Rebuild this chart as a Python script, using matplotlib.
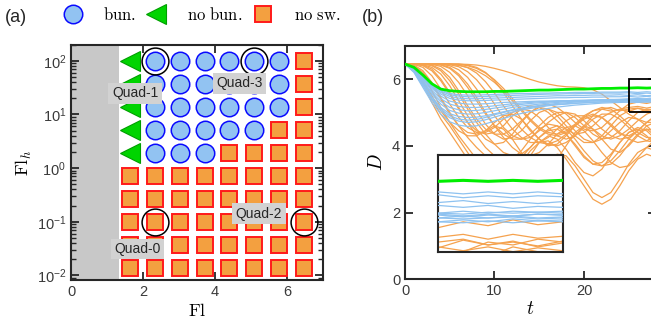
import numpy as np
import matplotlib.pyplot as plt
from matplotlib.lines import Line2D
from matplotlib.patches import Rectangle

plt.rcParams['font.family'] = ['Liberation Sans', 'DejaVu Sans']
plt.rcParams['mathtext.fontset'] = 'custom'
plt.rcParams['mathtext.rm'] = 'Liberation Sans'
plt.rcParams['mathtext.it'] = 'Liberation Sans:italic'
plt.rcParams['mathtext.bf'] = 'Liberation Sans:bold'

## Daten (a): Regime-Karte
fl = [1.63, 2.33, 3.02, 3.71, 4.40, 5.09, 5.78, 6.47]
flh = [100, 37.3, 13.9, 5.18, 1.93, 0.72, 0.268, 0.1, 0.0373, 0.0139]
# T = no bun., C = bun., S = no sw.  (Zeilen von oben nach unten)
regime = ["TCCCCCCS",
          "TCCCCCCS",
          "TCCCCCCS",
          "TCCCCCSS",
          "TCCCSSSS",
          "SSSSSSSS",
          "SSSSSSSS",
          "SSSSSSSS",
          "SSSSSSSS",
          "SSSSSSSS"]
quad_pts = [(1, 7), (1, 0), (7, 7), (5, 0)]   # (Spalte, Zeile) fuer Quad-0..3
fl_gray = 1.33

## Daten (b): D(t)
t = np.arange(0, 31)
green = [6.45, 6.35, 6.12, 5.86, 5.70, 5.65, 5.63, 5.62, 5.62, 5.62, 5.63, 5.63, 5.64, 5.65, 5.66, 5.67,
         5.67, 5.68, 5.69, 5.70, 5.70, 5.71, 5.72, 5.72, 5.73, 5.73, 5.74, 5.73, 5.74, 5.73, 5.74]
blue = [
    [6.45, 6.2, 5.75, 5.3, 4.95, 4.72, 4.62, 4.58, 4.6, 4.66, 4.74, 4.82, 4.9, 4.97, 5.03, 5.08, 5.12, 5.16, 5.19, 5.22, 5.24, 5.26, 5.28, 5.29, 5.3, 5.31, 5.3, 5.32, 5.3, 5.32, 5.31],
    [6.45, 6.22, 5.8, 5.38, 5.05, 4.84, 4.74, 4.7, 4.72, 4.78, 4.86, 4.94, 5.01, 5.07, 5.12, 5.16, 5.2, 5.23, 5.25, 5.27, 5.29, 5.31, 5.32, 5.33, 5.34, 5.35, 5.34, 5.35, 5.36, 5.34, 5.35],
    [6.45, 6.25, 5.86, 5.47, 5.15, 4.96, 4.88, 4.85, 4.86, 4.9, 4.96, 5.02, 5.08, 5.13, 5.17, 5.21, 5.24, 5.27, 5.29, 5.31, 5.33, 5.34, 5.35, 5.36, 5.37, 5.38, 5.36, 5.38, 5.37, 5.39, 5.38],
    [6.45, 6.27, 5.9, 5.55, 5.25, 5.06, 4.98, 4.95, 4.96, 5.0, 5.05, 5.1, 5.15, 5.19, 5.22, 5.25, 5.28, 5.3, 5.32, 5.33, 5.35, 5.36, 5.37, 5.38, 5.39, 5.4, 5.39, 5.41, 5.4, 5.41, 5.4],
    [6.45, 6.28, 5.94, 5.6, 5.33, 5.15, 5.08, 5.05, 5.06, 5.09, 5.13, 5.17, 5.21, 5.24, 5.27, 5.29, 5.31, 5.33, 5.34, 5.35, 5.36, 5.37, 5.38, 5.39, 5.39, 5.4, 5.42, 5.4, 5.42, 5.41, 5.42],
    [6.45, 6.3, 5.98, 5.66, 5.41, 5.25, 5.18, 5.15, 5.15, 5.17, 5.2, 5.23, 5.26, 5.28, 5.3, 5.32, 5.33, 5.34, 5.35, 5.36, 5.36, 5.37, 5.37, 5.38, 5.38, 5.39, 5.37, 5.39, 5.37, 5.39, 5.38],
    [6.45, 6.31, 6.01, 5.72, 5.49, 5.34, 5.28, 5.25, 5.25, 5.26, 5.28, 5.3, 5.31, 5.32, 5.33, 5.34, 5.34, 5.35, 5.35, 5.36, 5.36, 5.36, 5.37, 5.37, 5.37, 5.35, 5.37, 5.35, 5.37, 5.35, 5.36],
    [6.45, 6.32, 6.03, 5.76, 5.55, 5.42, 5.37, 5.35, 5.35, 5.36, 5.37, 5.38, 5.39, 5.4, 5.41, 5.42, 5.43, 5.44, 5.44, 5.45, 5.45, 5.46, 5.46, 5.47, 5.47, 5.48, 5.46, 5.48, 5.45, 5.47, 5.46],
    [6.45, 6.33, 6.05, 5.79, 5.6, 5.48, 5.43, 5.41, 5.41, 5.42, 5.43, 5.44, 5.45, 5.46, 5.47, 5.48, 5.49, 5.5, 5.5, 5.51, 5.51, 5.52, 5.52, 5.52, 5.53, 5.51, 5.53, 5.5, 5.52, 5.5, 5.52],
    [6.45, 6.34, 6.07, 5.82, 5.64, 5.53, 5.49, 5.47, 5.47, 5.48, 5.49, 5.5, 5.51, 5.52, 5.53, 5.54, 5.55, 5.55, 5.56, 5.56, 5.57, 5.57, 5.58, 5.58, 5.58, 5.59, 5.56, 5.58, 5.56, 5.58, 5.57],
    [6.45, 6.34, 6.08, 5.84, 5.67, 5.57, 5.53, 5.52, 5.52, 5.53, 5.54, 5.55, 5.56, 5.57, 5.57, 5.58, 5.58, 5.59, 5.59, 5.6, 5.6, 5.6, 5.61, 5.61, 5.61, 5.62, 5.6, 5.62, 5.6, 5.62, 5.6],
    [6.45, 6.24, 5.83, 5.42, 5.1, 4.9, 4.8, 4.77, 4.79, 4.85, 4.93, 5.0, 5.06, 5.11, 5.15, 5.19, 5.22, 5.24, 5.26, 5.28, 5.29, 5.3, 5.31, 5.32, 5.33, 5.31, 5.33, 5.31, 5.34, 5.32, 5.33],
]
orange = [
    [6.45, 6.3, 5.9, 5.4, 4.95, 4.6, 4.2, 3.8, 3.4, 3.0, 2.7, 2.6, 2.8, 3.2, 3.7, 4.1, 4.3, 4.2, 3.9, 3.5, 3.2, 3.1, 3.3, 3.7, 4.1, 4.4, 4.5, 4.3, 4.0, 3.7, 3.5],
    [6.45, 6.32, 5.95, 5.5, 5.05, 4.7, 4.45, 4.3, 4.3, 4.45, 4.6, 4.5, 4.2, 3.8, 3.4, 3.2, 3.3, 3.6, 4.0, 4.4, 4.6, 4.5, 4.2, 3.9, 3.8, 4.0, 4.3, 4.6, 4.7, 4.6, 4.4],
    [6.45, 6.4, 6.2, 5.85, 5.4, 4.95, 4.6, 4.4, 4.35, 4.45, 4.7, 4.9, 4.95, 4.8, 4.5, 4.2, 4.0, 4.05, 4.3, 4.6, 4.85, 4.95, 4.85, 4.6, 4.35, 4.3, 4.45, 4.7, 4.9, 5.0, 4.95],
    [6.45, 6.44, 6.35, 6.1, 5.7, 5.25, 4.85, 4.55, 4.4, 4.4, 4.55, 4.8, 5.0, 5.1, 5.05, 4.85, 4.55, 4.3, 4.2, 4.3, 4.6, 4.9, 5.1, 5.15, 5.05, 5.1, 5.13, 5.07, 5.11, 5.05, 5.09],
    [6.45, 6.45, 6.4, 6.25, 5.95, 5.55, 5.1, 4.7, 4.45, 4.35, 4.4, 4.6, 4.9, 5.1, 5.2, 5.15, 5.0, 4.75, 4.5, 4.35, 4.4, 4.6, 4.85, 5.0, 5.1, 5.15, 5.18, 5.13, 5.18, 5.14, 5.16],
    [6.45, 6.45, 6.43, 6.35, 6.15, 5.8, 5.35, 4.9, 4.5, 4.2, 4.05, 4.1, 4.35, 4.7, 5.0, 5.15, 5.1, 4.9, 4.6, 4.3, 4.1, 4.1, 4.3, 4.6, 4.9, 5.05, 5.01, 5.05, 5.0, 5.04, 5.01],
    [6.45, 6.45, 6.45, 6.42, 6.3, 6.05, 5.65, 5.2, 4.8, 4.5, 4.35, 4.35, 4.5, 4.75, 5.0, 5.2, 5.25, 5.15, 4.95, 4.7, 4.5, 4.45, 4.55, 4.8, 5.05, 5.25, 5.31, 5.27, 5.33, 5.28, 5.31],
    [6.45, 6.45, 6.45, 6.44, 6.38, 6.2, 5.9, 5.5, 5.05, 4.65, 4.35, 4.2, 4.25, 4.45, 4.75, 5.0, 5.1, 5.0, 4.75, 4.45, 4.2, 4.1, 4.2, 4.45, 4.7, 4.85, 4.8, 4.6, 4.35, 4.15, 4.1],
    [6.45, 6.45, 6.45, 6.45, 6.42, 6.32, 6.1, 5.75, 5.35, 4.95, 4.6, 4.35, 4.2, 4.2, 4.35, 4.6, 4.85, 5.0, 5.0, 4.85, 4.6, 4.35, 4.2, 4.25, 4.45, 4.75, 5.0, 5.1, 5.07, 5.13, 5.1],
    [6.45, 6.45, 6.45, 6.45, 6.44, 6.4, 6.28, 6.05, 5.7, 5.3, 4.9, 4.55, 4.3, 4.2, 4.25, 4.45, 4.7, 4.9, 5.0, 4.95, 4.75, 4.5, 4.3, 4.2, 4.3, 4.5, 4.75, 4.95, 5.05, 5.0, 4.85],
    [6.45, 6.45, 6.45, 6.45, 6.45, 6.43, 6.37, 6.22, 5.98, 5.65, 5.25, 4.85, 4.5, 4.25, 4.1, 4.1, 4.25, 4.5, 4.75, 4.9, 4.9, 4.75, 4.5, 4.3, 4.2, 4.25, 4.45, 4.7, 4.9, 5.0, 4.95],
    [6.45, 6.45, 6.45, 6.45, 6.45, 6.45, 6.42, 6.34, 6.18, 5.92, 5.58, 5.2, 4.82, 4.5, 4.25, 4.1, 4.05, 4.15, 4.35, 4.6, 4.8, 4.9, 4.85, 4.65, 4.4, 4.2, 4.1, 4.15, 4.3, 4.5, 4.7],
    [6.45, 6.45, 6.45, 6.45, 6.45, 6.45, 6.45, 6.42, 6.35, 6.2, 5.95, 5.6, 5.2, 4.8, 4.45, 4.2, 4.05, 4.0, 4.1, 4.3, 4.55, 4.8, 4.95, 4.95, 4.8, 4.55, 4.3, 4.15, 4.1, 4.2, 4.4],
    [6.45, 6.45, 6.45, 6.45, 6.45, 6.45, 6.45, 6.44, 6.42, 6.38, 6.32, 6.25, 6.17, 6.08, 5.99, 5.91, 5.85, 5.8, 5.77, 5.76, 5.74, 5.68, 5.55, 5.35, 5.15, 4.95, 4.8, 4.7, 4.7, 4.8, 4.95],
    [6.45, 6.45, 6.45, 6.45, 6.45, 6.44, 6.41, 6.35, 6.25, 6.1, 5.9, 5.65, 5.35, 5.05, 4.75, 4.5, 4.35, 4.3, 4.4, 4.6, 4.85, 5.05, 5.15, 5.1, 4.9, 4.65, 4.4, 4.25, 4.25, 4.4, 4.6],
    [6.45, 6.45, 6.45, 6.45, 6.45, 6.45, 6.44, 6.4, 6.32, 6.18, 5.98, 5.72, 5.42, 5.1, 4.8, 4.55, 4.4, 4.35, 4.45, 4.65, 4.9, 5.05, 5.1, 5.04, 5.08, 5.04, 5.12, 5.07, 5.1, 5.06, 5.11],
    [6.45, 6.3, 5.85, 5.3, 4.8, 4.4, 4.0, 3.6, 3.2, 2.85, 2.55, 2.35, 2.3, 2.45, 2.8, 3.2, 3.55, 3.75, 3.7, 3.4, 3.0, 2.6, 2.45, 2.6, 3.0, 3.45, 3.8, 3.95, 3.85, 3.6, 3.3],
    [6.45, 6.38, 6.1, 5.65, 5.15, 4.7, 4.3, 3.95, 3.6, 3.3, 3.1, 3.05, 3.2, 3.5, 3.85, 4.1, 4.15, 3.95, 3.6, 3.2, 2.8, 2.4, 2.25, 2.4, 2.8, 3.25, 3.6, 3.75, 3.65, 3.35, 3.0],
    [6.45, 6.42, 6.25, 5.9, 5.45, 5.0, 4.6, 4.25, 3.95, 3.7, 3.5, 3.4, 3.45, 3.65, 3.95, 4.25, 4.45, 4.5, 4.35, 4.05, 3.7, 3.45, 3.4, 3.55, 3.85, 4.2, 4.45, 4.5, 4.3, 3.95, 3.6],
    [6.45, 6.45, 6.42, 6.3, 6.0, 5.6, 5.15, 4.7, 4.3, 3.95, 3.7, 3.55, 3.6, 3.85, 4.2, 4.5, 4.65, 4.6, 4.35, 4.0, 3.65, 3.45, 3.5, 3.75, 4.1, 4.4, 4.55, 4.45, 4.2, 3.9, 3.7],
    [6.45, 6.45, 6.45, 6.4, 6.25, 5.95, 5.55, 5.1, 4.7, 4.35, 4.05, 3.8, 3.7, 3.75, 3.95, 4.25, 4.5, 4.6, 4.5, 4.2, 3.85, 3.55, 3.4, 3.45, 3.7, 4.05, 4.35, 4.5, 4.45, 4.2, 3.9],
    [6.45, 6.45, 6.45, 6.45, 6.43, 6.35, 6.15, 5.85, 5.45, 5.0, 4.6, 4.25, 3.95, 3.75, 3.7, 3.8, 4.05, 4.35, 4.55, 4.6, 4.45, 4.15, 3.8, 3.5, 3.35, 3.4, 3.65, 3.95, 4.2, 4.3, 4.2],
]
zoom_t = (25, 30)
zoom_D = (5, 6)

## Farben
c_circ, e_circ = '#92c3f2', '#0a0aff'
c_sq, e_sq = '#f3a040', '#ff1a1a'
c_tri, e_tri = '#00d400', '#009e00'
c_or, c_bl, c_gr = '#f5a24e', '#8ec2f0', '#00ee00'
c_tick = '#3a3a3a'

fig = plt.figure(figsize=(6.51, 3.33), dpi=100)

## Plotten (a)
ax = fig.add_axes([71/651, 53/333, 252/651, 235.3/333])
ax.axvspan(0, fl_gray, color='#c8c8c8', lw=0, zorder=0)
style = {'C': dict(marker='o', ms=13.3, mfc=c_circ, mec=e_circ, mew=1.1),
         'S': dict(marker='s', ms=11.2, mfc=c_sq, mec=e_sq, mew=1.4),
         'T': dict(marker='<', ms=14, mfc=c_tri, mec=e_tri, mew=0.8)}
for i, row in enumerate(regime):
    for j, r in enumerate(row):
        ax.plot(fl[j], flh[i], ls='none', zorder=3, **style[r])
for j, i in quad_pts:
    ax.plot(fl[j], flh[i], ls='none', marker='o', ms=19.3, mfc='none', mec='k',
            mew=1.1, zorder=4, clip_on=False)

box = dict(boxstyle='square,pad=0.25', fc='#d2d2d2', ec='none')
ax.text(1.85, 0.031, 'Quad-0', ha='center', va='center', fontsize=10, bbox=box, zorder=5, color='#262626')
ax.text(1.78, 25, 'Quad-1', ha='center', va='center', fontsize=10, bbox=box, zorder=5, color='#262626')
ax.text(5.22, 0.14, 'Quad-2', ha='center', va='center', fontsize=10, bbox=box, zorder=5, color='#262626')
ax.text(4.69, 38, 'Quad-3', ha='center', va='center', fontsize=10, bbox=box, zorder=5, color='#262626')

ax.set_yscale('log')
ax.set_xlim(0, 7)
ax.set_ylim(0.0082, 200)
ax.set_xticks([0, 2, 4, 6])
ax.set_xlabel(r'$\mathrm{Fl}$', fontsize=13, math_fontfamily='cm', labelpad=3)
ax.set_ylabel(r'$\mathrm{Fl}_h$', fontsize=13, math_fontfamily='cm', labelpad=2)
ax.tick_params(which='both', direction='in', top=True, right=True, labelsize=10.5,
               labelcolor=c_tick, color='#262626', width=1.3)
ax.tick_params(which='major', length=6)
ax.tick_params(which='minor', length=3.5, width=1)
for s in ax.spines.values():
    s.set_linewidth(1.5)
    s.set_color('#262626')

handles = [Line2D([], [], ls='none', **style['C']),
           Line2D([], [], ls='none', **style['T']),
           Line2D([], [], ls='none', **style['S'])]
labels = [r'$\mathrm{bun.}$', r'$\mathrm{no\ bun.}$', r'$\mathrm{no\ sw.}$']
leg = ax.legend(handles, labels, ncol=3, loc='center left', bbox_to_anchor=(-0.07, 1.13),
                frameon=False, fontsize=12, handletextpad=1.1, columnspacing=0.45,
                borderaxespad=0, handlelength=1.5)
for txt in leg.get_texts():
    txt.set_math_fontfamily('cm')

fig.text(5/651, 1 - 17/333, '(a)', fontsize=13, va='center', color='#262626')
fig.text(362/651, 1 - 17/333, '(b)', fontsize=13, va='center', color='#262626')

## Plotten (b)
bx = fig.add_axes([405/651, 53.7/333, 250.6/651, 233.6/333])
for y in orange:
    bx.plot(t, y, c=c_or, lw=0.9, zorder=2)
for y in blue:
    bx.plot(t, y, c=c_bl, lw=0.9, zorder=3)
bx.plot(t, green, c=c_gr, lw=2.0, zorder=4)
bx.add_patch(Rectangle((zoom_t[0], zoom_D[0]), zoom_t[1] - zoom_t[0], zoom_D[1] - zoom_D[0],
                       fill=False, ec='k', lw=1.3, zorder=5))
bx.set_xlim(0, 28)
bx.set_ylim(0, 7)
bx.set_xticks([0, 10, 20])
bx.set_yticks([0, 2, 4, 6])
bx.set_xlabel(r'$t$', fontsize=14, math_fontfamily='cm', labelpad=2)
bx.set_ylabel(r'$D$', fontsize=14, math_fontfamily='cm', labelpad=4)
bx.tick_params(direction='in', top=True, right=True, labelsize=10.5, labelcolor=c_tick,
               color='#262626', width=1.3, length=6)
for s in bx.spines.values():
    s.set_linewidth(1.5)
    s.set_color('#262626')

## Inset
ix = fig.add_axes([438.3/651, 81.3/333, 124.4/651, 96.4/333])
for y in orange:
    ix.plot(t, y, c=c_or, lw=0.9, zorder=2)
for y in blue:
    ix.plot(t, y, c=c_bl, lw=0.9, zorder=3)
ix.plot(t, green, c=c_gr, lw=2.2, zorder=4)
ix.set_xlim(*zoom_t)
ix.set_ylim(*zoom_D)
ix.set_xticks([])
ix.set_yticks([])
for s in ix.spines.values():
    s.set_linewidth(1.5)
    s.set_color('#262626')

fig.savefig('out.png', dpi=100)
